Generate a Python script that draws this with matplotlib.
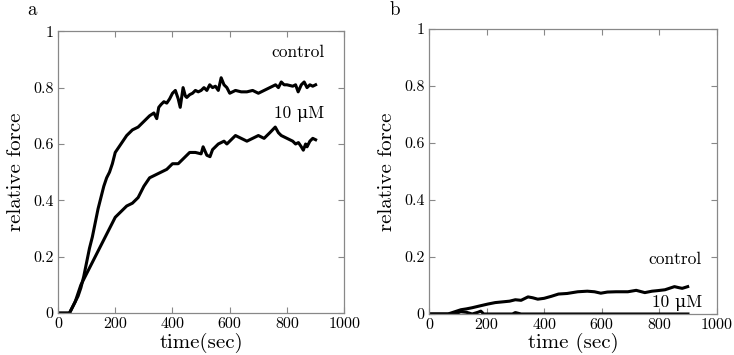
import matplotlib
matplotlib.use('Agg')
import matplotlib.pyplot as plt
from matplotlib.ticker import FuncFormatter

plt.rcParams['font.family'] = ['cmr10', 'DejaVu Serif']
plt.rcParams['axes.formatter.use_mathtext'] = True

# panel a: control
t_a_ctrl = [0, 20, 40, 50, 60, 70, 80, 90, 100, 110, 120, 130, 140, 150, 160, 170, 180,
            190, 200, 220, 240, 260, 280, 300, 320, 335, 345, 352, 360, 370, 380, 390,
            400, 410, 420, 427, 437, 445, 450, 460, 470, 480, 490, 500, 510, 520, 530,
            540, 550, 560, 570, 580, 590, 600, 620, 640, 660, 680, 700, 720, 740, 760,
            770, 780, 790, 800, 820, 830, 839, 850, 860, 870, 880, 890, 900]
f_a_ctrl = [0, 0, 0, 0.02, 0.04, 0.06, 0.09, 0.13, 0.18, 0.23, 0.27, 0.32, 0.37, 0.41,
            0.45, 0.48, 0.50, 0.53, 0.57, 0.60, 0.63, 0.65, 0.66, 0.68, 0.70, 0.71, 0.69,
            0.73, 0.74, 0.75, 0.745, 0.76, 0.78, 0.79, 0.76, 0.73, 0.80, 0.77, 0.765,
            0.775, 0.78, 0.79, 0.785, 0.79, 0.80, 0.79, 0.81, 0.80, 0.805, 0.79, 0.835,
            0.81, 0.80, 0.78, 0.79, 0.785, 0.785, 0.79, 0.78, 0.79, 0.80, 0.81, 0.80,
            0.82, 0.81, 0.81, 0.805, 0.81, 0.785, 0.81, 0.82, 0.80, 0.81, 0.805, 0.81]

# panel a: 10 uM
t_a_drug = [0, 20, 40, 50, 60, 70, 80, 90, 100, 120, 140, 160, 180, 200, 220, 240, 260,
            280, 290, 300, 320, 340, 360, 380, 400, 420, 440, 460, 480, 500, 507, 520,
            531, 540, 560, 580, 590, 600, 610, 620, 640, 660, 680, 700, 720, 740, 759,
            770, 780, 800, 820, 830, 840, 850, 857, 865, 870, 880, 890, 900]
f_a_drug = [0, 0, 0, 0.02, 0.04, 0.07, 0.10, 0.12, 0.14, 0.18, 0.22, 0.26, 0.30, 0.34,
            0.36, 0.38, 0.39, 0.41, 0.43, 0.45, 0.48, 0.49, 0.50, 0.51, 0.53, 0.53, 0.55,
            0.57, 0.57, 0.565, 0.59, 0.56, 0.555, 0.58, 0.60, 0.61, 0.60, 0.61, 0.62,
            0.63, 0.62, 0.61, 0.62, 0.63, 0.62, 0.64, 0.66, 0.64, 0.63, 0.62, 0.61, 0.60,
            0.605, 0.59, 0.578, 0.60, 0.59, 0.61, 0.62, 0.615]

# panel b: control
t_b_ctrl = [0, 40, 66, 90, 111, 130, 150, 175, 205, 230, 250, 280, 300, 320, 344, 360,
            378, 400, 425, 450, 480, 517, 550, 575, 597, 620, 650, 691, 720, 750, 775,
            795, 820, 853, 870, 880, 899]
f_b_ctrl = [0, 0, 0, 0.008, 0.015, 0.018, 0.022, 0.028, 0.035, 0.04, 0.042, 0.045,
            0.05, 0.048, 0.06, 0.057, 0.052, 0.055, 0.062, 0.07, 0.072, 0.078, 0.08,
            0.078, 0.073, 0.077, 0.078, 0.078, 0.083, 0.075, 0.08, 0.082, 0.085, 0.096,
            0.092, 0.09, 0.096]

# panel b: 10 uM
t_b_drug = [0, 90, 110, 130, 150, 170, 180, 190, 220, 290, 300, 320, 340, 900]
f_b_drug = [0, 0, 0.008, 0.006, 0, 0.006, 0.01, 0, 0, 0, 0.005, 0, 0, 0]

xticks = [0, 200, 400, 600, 800, 1000]
yticks = [0, 0.2, 0.4, 0.6, 0.8, 1]


def fmt(v, pos):
    return '%g' % v


fig = plt.figure(figsize=(7.34, 3.55), dpi=100)
ax1 = fig.add_axes([0.079, 0.118, 0.390, 0.794])
ax2 = fig.add_axes([0.5845, 0.1155, 0.392, 0.803])

panels = [
    (ax1, t_a_ctrl, f_a_ctrl, t_a_drug, f_a_drug, 'time(sec)',
     (930, 0.925), (930, 0.705)),
    (ax2, t_b_ctrl, f_b_ctrl, t_b_drug, f_b_drug, 'time (sec)',
     (948, 0.193), (950, 0.038)),
]

for ax, tc, fc, td, fd, xl, pc, pd in panels:
    ax.plot(tc, fc, color='black', lw=2.2)
    ax.plot(td, fd, color='black', lw=2.2)
    ax.set_xlim(0, 1000)
    ax.set_ylim(0, 1)
    ax.set_xticks(xticks)
    ax.set_yticks(yticks)
    ax.xaxis.set_major_formatter(FuncFormatter(fmt))
    ax.yaxis.set_major_formatter(FuncFormatter(fmt))
    ax.tick_params(direction='in', top=True, right=True, labelsize=11.5,
                   color='#888888', length=4, pad=3)
    for s in ax.spines.values():
        s.set_color('#888888')
        s.set_linewidth(0.9)
    ax.set_xlabel(xl, fontsize=15, labelpad=1)
    ax.set_ylabel('relative force', fontsize=15, labelpad=6)
    ax.text(pc[0], pc[1], 'control', ha='right', va='center', fontsize=12.5)
    ax.text(pd[0], pd[1], '10 μM', ha='right', va='center', fontsize=12.5)

fig.text(0.037, 0.972, 'a', fontsize=13.5, ha='left', va='center')
fig.text(0.531, 0.972, 'b', fontsize=13.5, ha='left', va='center')

fig.savefig('out.png', dpi=100)
